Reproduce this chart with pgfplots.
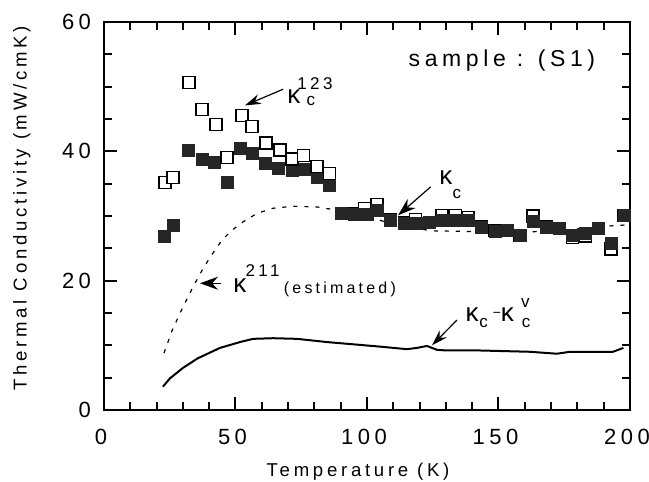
\documentclass[border=0pt]{standalone}
\usepackage{pgfplots}
\pgfplotsset{compat=1.18}
\usetikzlibrary{arrows.meta}
\usepackage{fontspec}
\setmainfont{Liberation Sans}[LetterSpace=20]
\begin{document}
\begin{tikzpicture}
\begin{axis}[
 scale only axis, width=263pt, height=194pt,
 xmin=0, xmax=200, ymin=0, ymax=60,
 xtick={0,50,100,150,200}, ytick={0,20,40,60},
 minor xtick={10,20,30,40,60,70,80,90,110,120,130,140,160,170,180,190},
 minor ytick={5,10,15,25,30,35,45,50,55},
 tick align=inside, major tick length=6.5pt, minor tick length=4pt,
 every tick/.style={line width=1pt, black},
 axis line style={line width=1.3pt},
 /pgf/number format/assume math mode=true,
 ticklabel style={font=\fontsize{11}{13}\selectfont},
 xticklabel style={yshift=-6pt, xshift=-1.5pt},
 yticklabel style={xshift=-3pt},
 xlabel={Temperature (K)}, ylabel={Thermal Conductivity (mW/cmK)},
 label style={font=\fontsize{9.3}{11}\selectfont},
 xlabel style={at={(axis description cs:0.483,-0.16)},anchor=center},
 ylabel style={at={(axis description cs:-0.156,0.52)},anchor=center},
 clip=false,
]
% kappa^211 (estimated), dashed
\addplot[black, line width=0.6pt, dash pattern=on 2pt off 3.5pt] coordinates {
(22.8,8.8)(26,12.4)(30,15.9)(33.8,19.0)(37.3,21.6)(40.3,23.6)(44.9,26.3)(48.7,27.8)(52.9,29.1)(58.2,30.4)(64.3,31.2)(71.9,31.5)(81,31.4)(90,30.8)(100,30.0)(106,29.2)(115,28.3)(125,27.7)(140,27.6)(160,27.5)(175,27.8)(190,28.4)(198,28.6)};
% kappa_c - kappa_c^v, solid
\addplot[black, line width=1pt] coordinates {
(22.4,3.6)(25.1,4.9)(30,6.5)(35.7,8.0)(44.1,9.6)(51.7,10.5)(56.7,11.0)(64.3,11.1)(73.4,11.0)(84.8,10.5)(93.5,10.2)(104.9,9.8)(115.2,9.4)(119,9.6)(122.8,9.9)(126.6,9.3)(130.4,9.2)(143,9.2)(162,9.0)(172.2,8.7)(177.2,9.0)(193.5,9.0)(197.5,9.6)};
% open squares (high T, behind filled)
\addplot[only marks, mark=square*, mark size=3pt, mark options={fill=white, draw=black, line width=0.6pt}] coordinates {
(90.2,30.4)(95.2,30.4)(99.2,31.1)(103.8,31.8)(109,29.4)(114.2,28.9)(118.5,29.5)(123.8,29.0)(128.5,30.1)(133.5,30.1)(138.4,29.8)(143.4,28.3)(148.6,27.7)(153.3,27.8)(158.2,27.0)(163.1,30.0)(168.2,28.3)(173.1,28.1)(178.2,26.7)(183.0,26.9)(187.9,28.1)(192.8,24.9)(197.7,30.1)};
% filled squares kappa_c
\addplot[only marks, mark=square*, mark size=3pt, mark options={fill=black!85, draw=black!85, line width=0.3pt}] coordinates {
(22.8,26.8)(26.2,28.6)(32,40.2)(37.2,38.8)(41.8,38.3)(46.8,35.2)(52,40.5)(56.3,39.7)(61.2,38.2)(66.2,37.4)(71.5,37.1)(76,37.2)(81,36.0)(85.6,34.8)(90.2,30.4)(95.2,30.2)(100,30.2)(103.8,30.9)(109,29.4)(114.2,28.9)(119,28.9)(123.8,29.0)(128.6,29.4)(133.4,29.4)(138.4,29.3)(143.4,28.3)(148.6,27.7)(153.3,27.8)(158.2,27.0)(163.1,29.2)(168.2,28.3)(173.1,28.1)(178.2,27.0)(183.0,27.3)(187.9,28.1)(192.8,25.8)(197.7,30.1)};
% open squares (low T)
\addplot[only marks, mark=square*, mark size=3pt, mark options={fill=white, draw=black, line width=0.6pt}] coordinates {
(23.2,35.2)(26.2,36.0)(32.3,50.7)(37.3,46.5)(42.6,44.2)(46.8,39.0)(52.5,45.6)(56.3,43.9)(61.6,41.3)(66.9,40.2)(71.5,38.8)(76,39.4)(81,37.7)(85.6,36.6)};
% annotations
\node[font=\fontsize{11.5}{13}\selectfont] at (axis cs:151.3,54.1) {sample : (S1)};
% kappa_c^123
\node[font=\fontsize{13}{15}\selectfont] at (axis cs:72.2,48.4) {κ};
\node[font=\fontsize{8.5}{10}\selectfont] at (axis cs:80.2,50.4) {123};
\node[font=\fontsize{8.5}{10}\selectfont] at (axis cs:78.7,47.8) {c};
\draw[line width=0.6pt, -{Stealth[length=8pt,width=5pt]}] (axis cs:68.1,49.6) -- (axis cs:53.6,47.1);
% kappa_c
\node[font=\fontsize{13}{15}\selectfont] at (axis cs:130.0,35.9) {κ};
\node[font=\fontsize{8.5}{10}\selectfont] at (axis cs:134.2,33.4) {c};
\draw[line width=0.6pt, -{Stealth[length=9pt,width=6pt]}] (axis cs:124.2,34.5) -- (axis cs:111.8,30.1);
% kappa^211 (estimated)
\node[font=\fontsize{13}{15}\selectfont] at (axis cs:51.7,19.2) {κ};
\node[font=\fontsize{8.5}{10}\selectfont] at (axis cs:60.3,21.5) {211};
\node[font=\fontsize{8}{10}\selectfont] at (axis cs:89.7,18.7) {(estimated)};
\draw[line width=0.6pt, -{Stealth[length=9pt,width=6.5pt]}] (axis cs:44.5,19.6) -- (axis cs:36.5,19.6);
% kappa_c - kappa_c^v
\node[font=\fontsize{13}{15}\selectfont] at (axis cs:140.0,14.8) {κ};
\node[font=\fontsize{8.5}{10}\selectfont] at (axis cs:144.3,13.5) {c};
\node[font=\fontsize{7}{9}\selectfont, inner sep=0pt] at (axis cs:149.4,14.7) {\char"2212};
\node[font=\fontsize{13}{15}\selectfont] at (axis cs:153.4,14.8) {κ};
\node[font=\fontsize{8.5}{10}\selectfont] at (axis cs:160.2,16.6) {v};
\node[font=\fontsize{8.5}{10}\selectfont] at (axis cs:160.5,13.5) {c};
\draw[line width=0.6pt, -{Stealth[length=8pt,width=5pt]}] (axis cs:134.2,13.9) -- (axis cs:124.7,10.0);
\end{axis}
\pgfresetboundingbox
\path[use as bounding box] ([xshift=-52pt,yshift=-36pt]current axis.south west) rectangle ([xshift=9.5pt,yshift=11pt]current axis.north east);
\end{tikzpicture}
\end{document}
